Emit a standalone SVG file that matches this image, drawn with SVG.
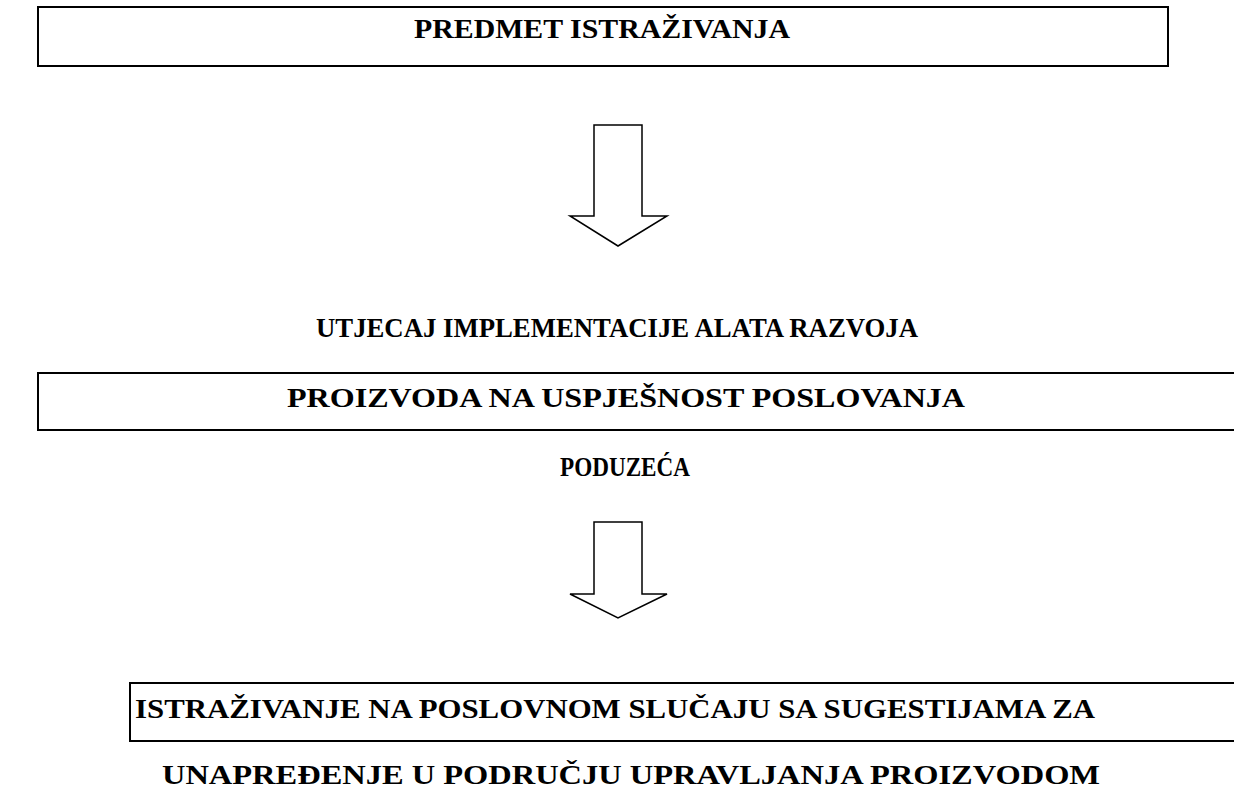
<svg xmlns="http://www.w3.org/2000/svg" width="1234" height="794" viewBox="0 0 1234 794">
<style>
.box{fill:none;stroke:#000;stroke-width:2}
.arr{fill:#fff;stroke:#000;stroke-width:1.5}
text{font-family:"Liberation Serif","Times New Roman",serif;font-weight:bold;font-size:28px;fill:#000}
</style>
<rect width="1234" height="794" fill="#fff"/>
<g id="n1">
<rect class="box" x="38" y="7" width="1130" height="59"/>
<text x="414" y="38" textLength="376" lengthAdjust="spacingAndGlyphs">PREDMET ISTRAŽIVANJA</text>
</g>
<g id="n2">
<text x="316" y="337" textLength="602" lengthAdjust="spacingAndGlyphs">UTJECAJ IMPLEMENTACIJE ALATA RAZVOJA</text>
<rect class="box" x="38" y="373" width="1210" height="57"/>
<text x="287" y="407" textLength="678" lengthAdjust="spacingAndGlyphs">PROIZVODA NA USPJEŠNOST POSLOVANJA</text>
<text x="560" y="476" textLength="130" lengthAdjust="spacingAndGlyphs">PODUZEĆA</text>
</g>
<g id="n3">
<rect class="box" x="130" y="683" width="1120" height="58"/>
<text x="135" y="718" textLength="960" lengthAdjust="spacingAndGlyphs">ISTRAŽIVANJE NA POSLOVNOM SLUČAJU SA SUGESTIJAMA ZA</text>
<text x="162" y="784" textLength="938" lengthAdjust="spacingAndGlyphs">UNAPREĐENJE U PODRUČJU UPRAVLJANJA PROIZVODOM</text>
</g>
<g id="connectors">
<polygon class="arr" points="594,125 642,125 642,216 667,216 618,246 570,216 594,216"/>
<polygon class="arr" points="594,522 642,522 642,594 667,594 618,618 570,594 594,594"/>
</g>
</svg>
